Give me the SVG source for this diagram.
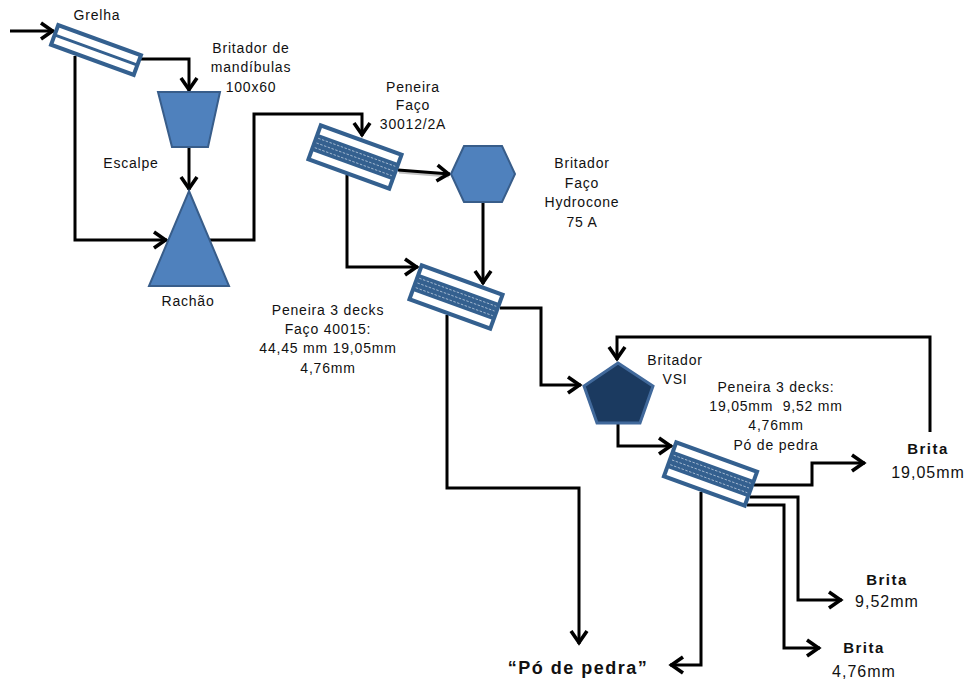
<svg xmlns="http://www.w3.org/2000/svg" xmlns:xlink="http://www.w3.org/1999/xlink" width="970" height="682" viewBox="0 0 970 682">
<style>
  .lbl { font-family: "Liberation Sans", Arial, sans-serif; font-size: 14px; letter-spacing: 0.8px; fill: #111; text-anchor: middle; white-space: pre; }
  .big { font-family: "Liberation Sans", Arial, sans-serif; font-size: 16px; letter-spacing: 1px; fill: #111; text-anchor: middle; }
  .bold { font-family: "Liberation Sans", Arial, sans-serif; font-size: 15px; font-weight: bold; letter-spacing: 1.5px; fill: #111; text-anchor: middle; }
  .pdp { font-family: "Liberation Sans", Arial, sans-serif; font-size: 18px; font-weight: bold; letter-spacing: 1.5px; fill: #111; text-anchor: middle; }
  .conn { fill: none; stroke: #000; stroke-width: 3; stroke-linejoin: miter; marker-end: url(#arr); }
  .shape { fill: #4F81BD; stroke: #385D8A; stroke-width: 2; }
  .dark { fill: #1B3A60; stroke: #41699B; stroke-width: 3; stroke-linejoin: miter; }
  .frame { fill: #34608F; }
  .bar { fill: #FFFFFF; }
  .dash { stroke: #B8C9DD; stroke-width: 0.9; stroke-dasharray: 2.5 1.5; opacity: 0.85; }
</style>
<defs>
  <marker id="arr" markerUnits="userSpaceOnUse" markerWidth="22" markerHeight="22" viewBox="-17 -11 22 22" refX="0" refY="0" orient="auto">
    <path d="M-13,-8 L-1.5,0 L-13,8" fill="none" stroke="#000" stroke-width="3.6"/>
  </marker>
  <g id="deck3">
    <rect class="frame" x="-45" y="-20" width="90" height="40"/>
    <rect class="bar" x="-41" y="-16" width="82" height="7"/>
    <rect class="bar" x="-41" y="9" width="82" height="7"/>
    <line class="dash" x1="-41" y1="-5" x2="41" y2="-5"/>
    <line class="dash" x1="-41" y1="0" x2="41" y2="0"/>
    <line class="dash" x1="-41" y1="5" x2="41" y2="5"/>
  </g>
</defs>
<rect width="970" height="682" fill="#FFFFFF"/>

<g id="connectors">
  <path class="conn" d="M10,31 H54"/>
  <path class="conn" d="M140,59 H189 V91"/>
  <path class="conn" d="M75,56 V240 H167"/>
  <path class="conn" d="M189,147 V190"/>
  <path class="conn" d="M210,240 H254 V114 H362 V136"/>
  <line x1="399" y1="172" x2="449" y2="176" stroke="#9a9a9a" stroke-width="3" opacity="0.6"/>
  <path class="conn" d="M398,170 L450,174"/>
  <path class="conn" d="M347,175 V267 H418"/>
  <path class="conn" d="M483,203 V284"/>
  <path class="conn" d="M500,308 H541 V385 H581"/>
  <path class="conn" d="M447,315 V488 H579 V644"/>
  <path class="conn" d="M618,424 V446 H672"/>
  <path class="conn" d="M754,485 H812 V463 H865"/>
  <path class="conn" d="M930,432 V337 H617 V360"/>
  <path class="conn" d="M750,497 H798 V600 H842"/>
  <path class="conn" d="M747,505 H784 V648 H820"/>
  <path class="conn" d="M701,492 V665 H670"/>
</g>

<g id="grelha">
  <g transform="translate(96,50) rotate(20)">
    <rect class="frame" x="-46" y="-12.5" width="92" height="25"/>
    <rect class="bar" x="-42" y="-8.5" width="84" height="7"/>
    <rect class="bar" x="-42" y="1.5" width="84" height="7"/>
  </g>
  <text class="lbl" x="97" y="20">Grelha</text>
</g>

<g id="britador-mandibulas">
  <polygon class="shape" points="158,92 220,92 208,147 172,147"/>
  <text class="lbl" x="251" y="53">Britador de</text>
  <text class="lbl" x="251" y="72">mandíbulas</text>
  <text class="lbl" x="251" y="92">100x60</text>
  <text class="lbl" x="131" y="168">Escalpe</text>
</g>

<g id="rachao">
  <polygon class="shape" points="189,191 229,286 149,286"/>
  <text class="lbl" x="188" y="306">Rachão</text>
</g>

<g id="peneira-30012">
  <use xlink:href="#deck3" transform="translate(355,157) rotate(20)"/>
  <text class="lbl" x="413" y="92">Peneira</text>
  <text class="lbl" x="413" y="110">Faço</text>
  <text class="lbl" x="413" y="129">30012/2A</text>
</g>

<g id="hydrocone">
  <polygon class="shape" points="451,174 464,146 502,146 515,174 502,202 464,202"/>
  <text class="lbl" x="582" y="168">Britador</text>
  <text class="lbl" x="582" y="188">Faço</text>
  <text class="lbl" x="582" y="207">Hydrocone</text>
  <text class="lbl" x="582" y="227">75 A</text>
</g>

<g id="peneira-40015">
  <use xlink:href="#deck3" transform="translate(456,297) rotate(20)"/>
  <text class="lbl" x="328" y="315">Peneira 3 decks</text>
  <text class="lbl" x="328" y="334">Faço 40015:</text>
  <text class="lbl" x="328" y="353">44,45 mm 19,05mm</text>
  <text class="lbl" x="328" y="373">4,76mm</text>
</g>

<g id="britador-vsi">
  <polygon class="dark" points="618,363 653,386 640,423 597,423 584,386"/>
  <text class="lbl" x="675" y="365">Britador</text>
  <text class="lbl" x="675" y="384">VSI</text>
</g>

<g id="peneira-final">
  <use xlink:href="#deck3" transform="translate(710.5,474) rotate(20)"/>
  <text class="lbl" x="776" y="392">Peneira 3 decks:</text>
  <text class="lbl" x="776" y="411" xml:space="preserve">19,05mm  9,52 mm</text>
  <text class="lbl" x="776" y="430">4,76mm</text>
  <text class="lbl" x="776" y="450">Pó de pedra</text>
</g>

<g id="brita-1905">
  <text class="bold" x="928" y="454">Brita</text>
  <text class="big" x="928" y="478">19,05mm</text>
</g>

<g id="brita-952">
  <text class="bold" x="887" y="585">Brita</text>
  <text class="big" x="887" y="607">9,52mm</text>
</g>

<g id="brita-476">
  <text class="bold" x="864" y="653">Brita</text>
  <text class="big" x="864" y="677">4,76mm</text>
</g>

<g id="po-de-pedra">
  <text class="pdp" x="578" y="674">“Pó de pedra”</text>
</g>
</svg>
